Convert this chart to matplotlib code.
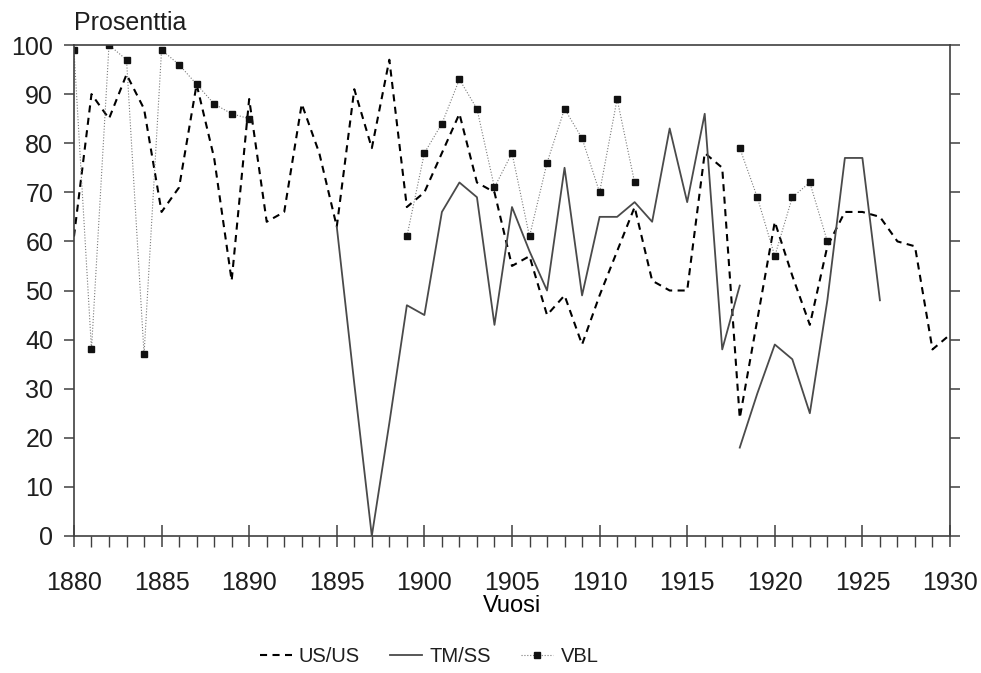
import numpy as np
import matplotlib.pyplot as plt
from matplotlib.lines import Line2D
from matplotlib.ticker import MultipleLocator

plt.rcParams['font.family'] = ['Liberation Sans', 'DejaVu Sans']
plt.rcParams['text.color'] = '#1e1e1e'
plt.rcParams['xtick.labelcolor'] = '#1e1e1e'
plt.rcParams['ytick.labelcolor'] = '#1e1e1e'

# US/US, every year 1880-1930
us_years = list(range(1880, 1931))
us_vals = [61, 90, 85, 94, 87, 66, 71, 92, 77, 52,
           89, 64, 66, 88, 78, 63, 91, 79, 97, 67,
           70, 78, 86, 72, 70, 55, 57, 45, 49, 39,
           49, 58, 67, 52, 50, 50, 78, 75, 24, 44,
           64, 53, 43, 59, 66, 66, 65, 60, 59, 38,
           41]

# TM/SS, two separate runs
tm_years_a = list(range(1895, 1919))
tm_vals_a = [63, 31, 0, 23, 47, 45, 66, 72, 69, 43, 67, 58,
             50, 75, 49, 65, 65, 68, 64, 83, 68, 86, 38, 51]
tm_years_b = list(range(1918, 1927))
tm_vals_b = [18, 29, 39, 36, 25, 48, 77, 77, 48]

# VBL, three runs
vbl_years_a = list(range(1880, 1891))
vbl_vals_a = [99, 38, 100, 97, 37, 99, 96, 92, 88, 86, 85]
vbl_years_b = list(range(1899, 1913))
vbl_vals_b = [61, 78, 84, 93, 87, 71, 78, 61, 76, 87, 81, 70, 89, 72]
vbl_years_c = list(range(1918, 1924))
vbl_vals_c = [79, 69, 57, 69, 72, 60]

FS = 18
dash_kw = dict(color='black', lw=1.5, dashes=(3.4, 2.6))
solid_kw = dict(color='#4a4a4a', lw=1.3, ls='-')
dot_kw = dict(color='#7a7a7a', lw=0.8, ls=(0, (1, 1.6)), marker='s', ms=5,
              mfc='#111111', mec='#111111')

fig = plt.figure(figsize=(9.81, 6.73), dpi=100)
ax = fig.add_axes([0.0754, 0.2036, 0.893, 0.7295])

ax.plot(us_years, us_vals, **dash_kw)
ax.plot(tm_years_a, tm_vals_a, **solid_kw)
ax.plot(tm_years_b, tm_vals_b, **solid_kw)
for yrs, vals in [(vbl_years_a, vbl_vals_a), (vbl_years_b, vbl_vals_b),
                  (vbl_years_c, vbl_vals_c)]:
    ax.plot(yrs, vals, **dot_kw)

ax.set_xlim(1880, 1930)
ax.set_ylim(0, 100)
ax.xaxis.set_major_locator(MultipleLocator(5))
ax.xaxis.set_minor_locator(MultipleLocator(1))
ax.yaxis.set_major_locator(MultipleLocator(10))

for s in ax.spines.values():
    s.set_color('#404040')
    s.set_linewidth(1.2)

ax.tick_params(axis='x', which='major', direction='inout', length=16, width=1.1,
               color='#404040', labelsize=FS, pad=17)
ax.tick_params(axis='x', which='minor', direction='out', length=8, width=1.0,
               color='#404040')
ax.tick_params(axis='y', which='major', direction='out', length=7, width=1.1,
               color='#404040', labelsize=FS, pad=8, right=True)

ax.set_xlabel('Vuosi', fontsize=17, labelpad=0)
ax.text(0, 1.02, 'Prosenttia', transform=ax.transAxes, ha='left', va='bottom',
        fontsize=FS)

handles = [Line2D([], [], **dash_kw), Line2D([], [], **solid_kw),
           Line2D([], [], **dot_kw)]
fig.legend(handles, ['US/US', 'TM/SS', 'VBL'], loc='center',
           bbox_to_anchor=(429 / 981, 1 - 657 / 673), ncol=3, frameon=False,
           fontsize=14.5, handlelength=1.6, columnspacing=1.5, handletextpad=0.35,
           numpoints=1)

fig.savefig('out.png', dpi=100)
